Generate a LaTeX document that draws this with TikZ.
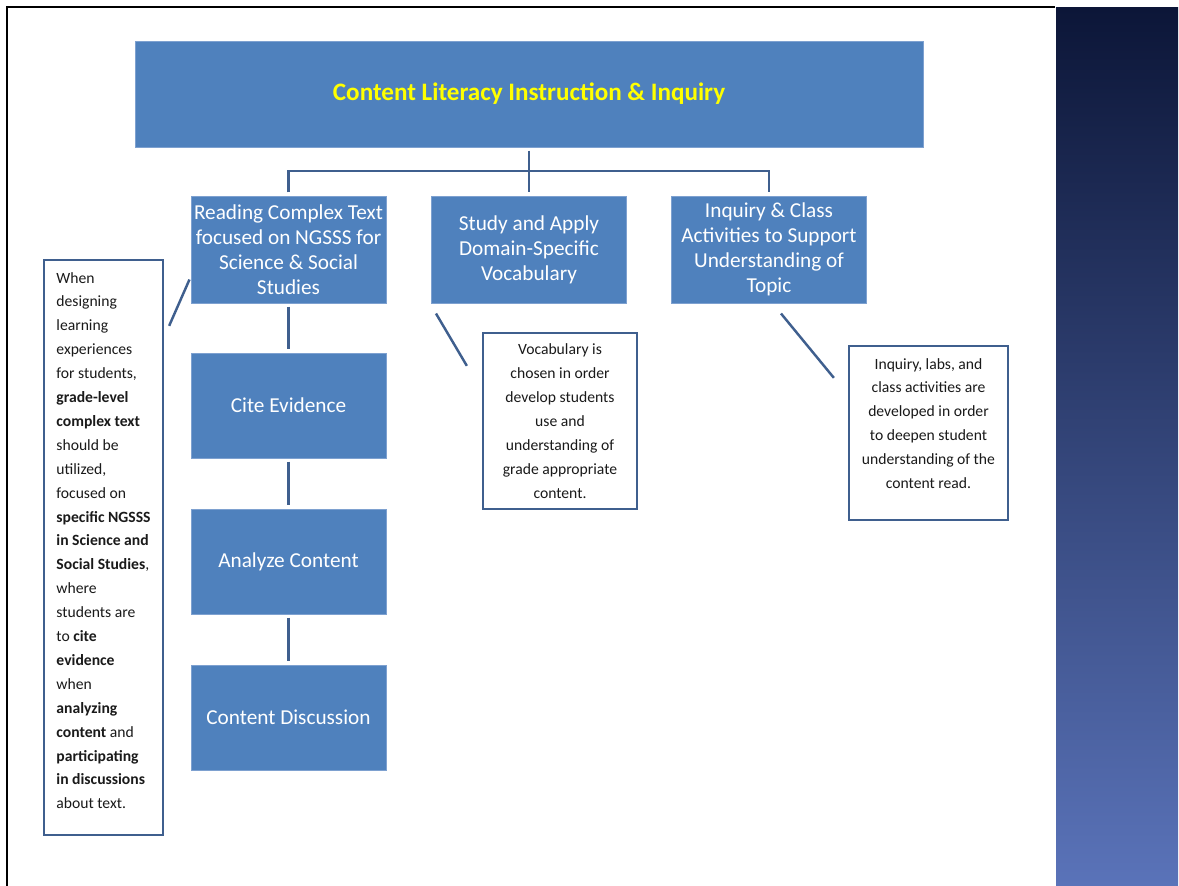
\documentclass[tikz,border=0pt]{standalone}
\usepackage{fontspec}
\setmainfont{Carlito}
\usetikzlibrary{positioning,calc}
\definecolor{boxblue}{HTML}{4F81BD}
\definecolor{boxedge}{HTML}{7EA1D0}
\definecolor{linkblue}{HTML}{3F5F8E}
\definecolor{navytop}{HTML}{0C1638}
\definecolor{navybot}{HTML}{5A73B9}
\definecolor{titleyellow}{HTML}{FFFF00}
\definecolor{notetext}{HTML}{1A1A1A}
\tikzset{
  topbox/.style={fill=boxblue,draw=boxedge,line width=0.4pt,
                 minimum width=15.76cm,minimum height=2.12cm,outer sep=2pt,
                 font=\bfseries\fontsize{14.3}{16}\selectfont,text=titleyellow},
  topicbox/.style={fill=boxblue,draw=boxedge,line width=0.4pt,
                   minimum width=3.9cm,minimum height=2.14cm,inner sep=1pt,
                   outer sep=2pt,align=center,text=white,
                   font=\fontsize{12.1}{14.2}\selectfont},
  stepbox/.style={topicbox,minimum height=2.1cm},
  notebox/.style={draw=linkblue,fill=white,line width=1.3pt,inner sep=2pt,
                  align=center,text=notetext,
                  font=\fontsize{8.9}{13.6}\selectfont},
  link/.style={draw=linkblue,line width=1.4pt},
  callout/.style={draw=linkblue,line width=1.4pt}
}

\begin{document}
\begin{tikzpicture}[x=0.2mm,y=-0.2mm]
    \path[use as bounding box] (0,0) rectangle (1179,886);
    % slide frame and side panel
    \shade[top color=navytop,bottom color=navybot] (1056,8) rectangle (1178,886);
    \draw[line width=1.4pt,line join=miter] (1055,7) -- (7,7) -- (7,886);

    \node[topbox] (main) at (529,94) {Content Literacy Instruction \& Inquiry};

    \node[topicbox] (read) at (288.5,249.5)
      {Reading Complex Text\\focused on NGSSS for\\Science \& Social\\Studies};
    \node[topicbox] (study) at (529,249.5)
      {Study and Apply\\Domain-Specific\\Vocabulary};
    \node[topicbox] (inq) at (769,249.5)
      {Inquiry \& Class\\Activities to Support\\Understanding of\\Topic};

    \node[stepbox] (cite) at (288.5,405.5) {Cite Evidence};
    \node[stepbox] (analyze) at (288.5,561.5) {Analyze Content};
    \node[stepbox] (discuss) at (288.5,717.5) {Content Discussion};

    \node[notebox,align=left,minimum width=2.38cm,minimum height=11.5cm,
          text depth=8pt]
      (readnote) at (103.5,547.5)
      {When\\designing\\learning\\experiences\\for students,\\
       \textbf{grade-level}\\\textbf{complex text}\\should be\\utilized,\\
       focused on\\\textbf{specific NGSSS}\\\textbf{in Science and}\\
       \textbf{Social Studies},\\where\\students are\\to \textbf{cite}\\
       \textbf{evidence}\\when\\\textbf{analyzing}\\\textbf{content} and\\
       \textbf{participating}\\\textbf{in discussions}\\about text.};
    \node[notebox,minimum width=3.08cm,minimum height=3.52cm]
      (vocabnote) at (560,421)
      {Vocabulary is\\chosen in order\\develop students\\use and\\
       understanding of\\grade appropriate\\content.};
    \node[notebox,minimum width=3.18cm,minimum height=3.48cm,text depth=11pt]
      (inqnote) at (928.5,433)
      {Inquiry, labs, and\\class activities are\\developed in order\\
       to deepen student\\understanding of the\\content read.};

    % hierarchy
    \draw[link] (main.south) -- (study.north);
    \draw[link] (read.north) -- ++(0,-21.5) -| (inq.north);
    \draw[link] (read.south) -- (cite.north);
    \draw[link] (cite.south) -- (analyze.north);
    \draw[link] (analyze.south) -- (discuss.north);

    % callouts
    \draw[callout] ($(readnote.north east)+(5,67)$) -- ($(read.west)+(2,30)$);
    \draw[callout] ($(study.south west)+(8,7)$) -- ($(vocabnote.north west)+(-15,34)$);
    \draw[callout] ($(inq.south)+(12,7)$) -- ($(inqnote.north west)+(-14,33)$);
  \end{tikzpicture}
\end{document}
